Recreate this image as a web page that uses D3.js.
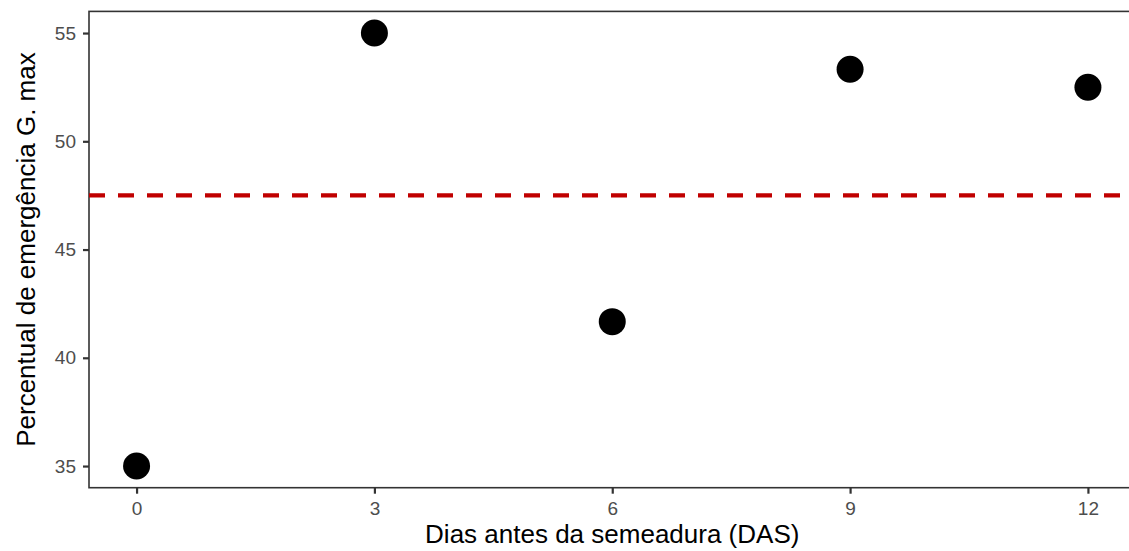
<!DOCTYPE html>
<html>
<head>
<meta charset="utf-8">
<script src="https://cdn.jsdelivr.net/npm/d3@7"></script>
<style>
  html, body { margin: 0; padding: 0; background: #fff; overflow: hidden; }
  svg { display: block; font-family: Arial, "Liberation Sans", sans-serif; }
</style>
</head>
<body>
<svg id="chart" width="1129" height="551"></svg>
<script>
// Days before sowing and maximum emergence percentage
const days = [0, 3, 6, 9, 12];
const emergence = [35, 55, 41.67, 53.33, 52.5];
const xTicks = [0, 3, 6, 9, 12];
const yTicks = [35, 40, 45, 50, 55];
const meanEmergence = d3.mean(emergence);

const svg = d3.select("#chart");
const panel = { left: 89, top: 11.4, right: 1135.5, bottom: 487.7 };

// 5% padding on each side of the data range
const xPad = (d3.max(days) - d3.min(days)) * 0.05;
const yPad = (d3.max(emergence) - d3.min(emergence)) * 0.05;
const x = d3.scaleLinear()
  .domain([d3.min(days) - xPad, d3.max(days) + xPad])
  .range([panel.left, panel.right]);
const y = d3.scaleLinear()
  .domain([d3.min(emergence) - yPad, d3.max(emergence) + yPad])
  .range([panel.bottom, panel.top]);

// Panel frame
svg.append("rect")
  .attr("x", panel.left).attr("y", panel.top)
  .attr("width", panel.right - panel.left)
  .attr("height", panel.bottom - panel.top)
  .attr("fill", "none").attr("stroke", "#333").attr("stroke-width", 1.6);

// Axes
const xAxis = svg.append("g")
  .attr("transform", `translate(0,${panel.bottom})`)
  .call(d3.axisBottom(x).tickValues(xTicks).tickSize(6).tickPadding(8).tickFormat(d3.format("d")));
const yAxis = svg.append("g")
  .attr("transform", `translate(${panel.left},0)`)
  .call(d3.axisLeft(y).tickValues(yTicks).tickSize(6).tickPadding(7).tickFormat(d3.format("d")));

[xAxis, yAxis].forEach(g => {
  g.attr("font-size", 19).attr("font-family", "Arial, 'Liberation Sans', sans-serif");
  g.select(".domain").remove();
  g.selectAll(".tick line").attr("stroke", "#333").attr("stroke-width", 2.2);
  g.selectAll(".tick text").attr("fill", "#4d4d4d").style("font-size", "19px");
});

// Mean reference line
svg.append("line")
  .attr("x1", panel.left).attr("x2", panel.right)
  .attr("y1", y(meanEmergence)).attr("y2", y(meanEmergence))
  .attr("stroke", "#c00000")
  .attr("stroke-width", 4.2)
  .attr("stroke-dasharray", "16,13");

// Points
svg.append("g").selectAll("circle")
  .data(days.map((d, i) => ({ d, v: emergence[i] })))
  .join("circle")
  .attr("cx", p => x(p.d))
  .attr("cy", p => y(p.v))
  .attr("r", 13.5)
  .attr("fill", "#000");

// Axis titles
svg.append("text")
  .attr("x", (panel.left + panel.right) / 2)
  .attr("y", 543)
  .attr("text-anchor", "middle")
  .attr("font-size", 26)
  .attr("fill", "#000")
  .text("Dias antes da semeadura (DAS)");

svg.append("text")
  .attr("transform", `translate(35,${(panel.top + panel.bottom) / 2}) rotate(-90)`)
  .attr("text-anchor", "middle")
  .attr("font-size", 26)
  .attr("fill", "#000")
  .text("Percentual de emergência G. max");
</script>
</body>
</html>
